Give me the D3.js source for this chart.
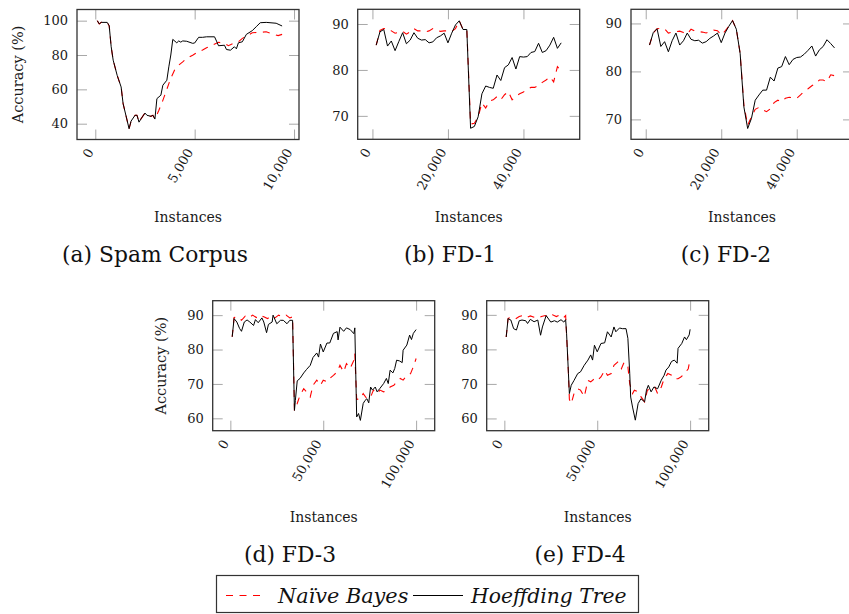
<!DOCTYPE html>
<html><head><meta charset="utf-8">
<script src="https://cdn.jsdelivr.net/npm/d3@7"></script>
<style>
body{margin:0;background:#fff}
svg{display:block}
</style>
</head><body>
<svg id="chart" width="849" height="614"></svg>
<script>
// ---------- data (instances, accuracy %) ----------
// (a) Spam Corpus
const aHtX = [100,200,300,600,700,800,900,1100,1300,1400,1700,1800,2000,2100,2200,2300,2500,2600,2800,2900,3000,3100,3300,3400,3600,3700,3800,3900,4100,4200,4300,4400,4600,4900,5000,5200,5400,5600,6000,6100,6200,6500,6600,6800,7000,7100,7200,7400,7600,7900,8100,8300,8600,9100,9400];
const aHtY = [100,98.1,99,99,97,84.8,77,68.2,61.4,51.7,37.1,41.5,44.9,44.9,40.9,42.8,46.2,44.9,44.3,44.9,42.7,54.6,56.6,62.4,65.3,73.1,80,89.1,87.1,88.2,87.5,88.2,88,86.8,87,90.3,90.3,90.6,90.6,88.1,85.4,85.7,83.2,82.8,84.8,83.6,87.1,87.7,92,94.2,96.5,98.8,99,98.5,96.9];
const aNbX = [100,200,300,600,700,800,900,1100,1300,1400,1700,1800,2000,2100,2200,2300,2500,2600,2800,2900,3000,3200,3400,3600,3800,4000,4200,4400,4600,4900,5100,5400,5600,5900,6200,6500,6700,7000,7200,7400,7700,7900,8300,8600,9000,9200,9400];
const aNbY = [100,98.1,99,99,97,84.8,77,68.2,61.4,51.7,37.1,41.5,44.9,44.9,40.9,42.8,46.2,44.9,44.3,44.9,42.7,47.8,53.6,60,66.5,71.5,74.1,76,78,79.9,81.3,82.9,84.2,85.8,87.4,86.8,85.4,87.1,87.7,89.7,91.6,93,93.2,93.5,92,91.3,92];

// (b) FD-1 and (c) FD-2 : one value every 1,000 instances
const fdX = [1000,2000,3000,4000,5000,6000,7000,8000,9000,10000,11000,12000,13000,14000,15000,16000,17000,18000,19000,20000,21000,22000,23000,24000,25000,26000,27000,28000,29000,30000,31000,32000,33000,34000,35000,36000,37000,38000,39000,40000,41000,42000,43000,44000,45000,46000,47000,48000,49000,50000];
const bHtY = [85.4,88.3,88.8,85.2,86.3,84.2,86.2,88.1,85.7,86.5,88.1,86.9,86.5,86.6,85.9,86.1,87,87.4,88,85.9,88,89.8,90.7,88.8,88.8,67.3,67.7,69.8,74.8,76.5,76.2,76,78.9,77.7,80.5,81.1,82.7,80.2,82.9,82.8,82.9,83.8,84,85.8,83.8,84.2,85.4,87.1,84.7,85.9];
const bNbY = [85.4,88.6,89,89,88.5,88,88.2,88.4,87.8,88.3,89,88.5,88.5,88.3,88.5,89,88.6,88.4,88.5,88.5,88.4,89,90.7,88.8,88.8,68.2,68.4,69.8,72.8,71.7,73.2,73.5,74.2,73.5,74.6,75.3,73.5,74.3,74.8,75.2,75.8,76.2,76.2,76.6,77.3,77.8,78.5,77.4,80.7,79.8];
const cHtY = [85.5,88.1,88.9,85.2,86.2,84.1,86.4,88,85.5,86.4,88,86.7,86.4,86.5,85.9,86.2,86.9,87.4,88,86,88,89.4,90.6,88.8,83.8,72.6,68.1,70.2,74,75.1,76.1,76.1,78.8,78,80.7,81,83.1,81.4,82.5,82.9,83,83.6,84.4,85.3,83.2,84.5,85.2,86.6,85.8,84.9];
const cNbY = [85.5,88,88.9,89,88.9,88,88.2,88.3,88.4,88.1,87.8,88.8,88.4,88.3,88.2,88,88.3,88.6,88.5,87.6,88.4,89.4,90.6,88.8,83.8,73,68.8,70.5,72.1,72.5,72,71.6,72.2,73.5,74,73.7,74.4,74.6,74.5,74.4,75.1,75.9,76.4,77,77.5,78.2,78.2,77.9,79.3,79.1];

// (d) FD-3
const dHtX = [1000,2000,3500,5000,6000,7500,9000,10500,12500,13500,15000,17000,18000,19500,20500,22500,23000,25000,27000,28500,30500,32000,33500,34500,35000,36000,37500,39500,41000,43000,44500,46500,47500,48500,50000,52000,53500,55500,57500,58000,59000,61000,62500,64500,66500,67000,68000,69000,70000,71500,72500,73500,74500,75500,76500,78000,79000,80500,82500,84000,85000,86000,87500,88500,89500,91000,92500,93000,95000,96500,97500,98500,100000];
const dHtY = [83.7,89,88,86.1,85.3,88,88.6,88,87,88.7,87.8,89.2,88,84.9,87.3,88,90,87.5,88.5,88.5,87.5,88.5,88.5,62.3,65.2,70.9,71.6,73.2,74.2,75.4,77.7,79,77.8,81.6,79.3,81.9,81.9,84.7,85.2,82.8,86.5,85.3,86.3,85.8,84.6,86.3,60.4,61.4,59.4,64.3,65.2,65.7,64.5,69.1,68.2,69.1,67.7,68.7,70.1,71.6,70.1,74,73.2,74.5,76.9,76.7,76.2,79.8,81.3,84.2,82.9,84.7,85.8];
const dNbX = [1000,2000,4000,6000,8000,10000,12000,14000,16000,18000,20000,22000,24000,26000,28000,30000,32000,33500,34500,36000,37500,39500,41000,43000,44500,46500,48500,50000,52000,53500,55500,57500,59000,61000,62500,64500,66500,67000,68000,70000,71500,73500,75500,77000,79000,80500,82500,84500,86000,88000,89500,91500,93000,95000,97000,98500,100000];
const dNbY = [83.7,89.3,89.5,88.5,89.7,89.2,90,89.3,90,89.5,89,89.8,89.2,90,89.5,90,89.2,89.5,62.3,64.3,66.7,68.6,67.7,66.2,69.6,71.1,69.6,71.1,70.6,71.6,72.5,73.5,75.4,73.5,75.9,74.5,76.9,78.8,65.5,65.7,67.2,65.7,66.2,68.2,67.2,68.2,67.7,68.2,69.1,69.6,70.6,71.6,71.1,72.5,73,75,77.4];

// (e) FD-4
const eHtX = [1000,2000,3500,5000,6500,8000,9500,11500,12500,14000,16000,18000,19500,20500,22500,25000,27000,28500,30500,32000,33000,33500,34500,35000,36000,37500,39500,41000,43000,45000,46500,47500,48500,50000,52000,54000,55500,57500,59000,60000,62000,63500,65500,66500,67500,68000,69000,70500,72000,73500,75500,76500,77500,79000,80500,82500,84500,86000,87000,88500,90000,91500,93000,93500,95500,97000,98000,99500,100000];
const eHtY = [83.6,88.9,88.5,86,85.6,88.3,88.5,88.3,87.5,88.7,88,88.5,84.1,86.5,89.8,87.9,88.3,87.9,88.6,87.9,88.6,84.6,73,67.2,69.6,71,73,73.5,75.4,76.9,78.4,76.9,81.2,79.3,81.7,81.9,85.1,83.6,86.5,85.1,86.2,86,86,83.2,73,66.2,63.3,59.5,64.3,65.7,64.8,68.2,69.6,67.7,69.1,68.6,71.1,72.5,74,74.9,76.5,76.9,76,80.3,81.7,83.6,82.8,84.2,85.8];
const eNbX = [1000,2000,4000,6000,8000,10000,12000,14000,16000,18000,20000,22000,24000,26000,28000,30000,32000,33000,34500,35000,36000,37500,39500,41000,43000,45000,46500,48500,50000,52000,54000,55500,57500,59000,61000,63000,64500,66500,67500,69000,70000,72000,73500,75500,77000,81000,82500,84500,86000,88000,90000,91500,93500,95000,97000,99000,100000];
const eNbY = [83.6,89,89.3,88.8,89.5,89.8,89.2,89.7,89.3,89,89.5,89.8,89.2,90,89.5,90,89.2,89.8,73,65.5,64.3,67.2,68.6,68.2,66.3,71,70.6,71.5,71,72,73.9,72.5,73,75.4,76.3,74.4,76.3,75,70,67.2,68.2,67.7,66.3,64.8,68.2,69.1,67.2,69.1,71.5,73,72.5,71.5,71.5,72,73,74.4,77.3];

// tick values and labels
const ticksXa = [0,5000,10000];
const ticksXbc = [0,20000,40000];
const ticksXde = [0,50000,100000];
const ticksYa = [40,60,80,100];
const ticksYbc = [70,80,90];
const ticksYde = [60,70,80,90];
const captions = ["(a) Spam Corpus","(b) FD-1","(c) FD-2","(d) FD-3","(e) FD-4"];
const seriesNames = ["Naïve Bayes","Hoeffding Tree"];
const xTitle = "Instances";
const yTitle = "Accuracy (%)";

// ---------- layout ----------
const W = 222, H = 130;
const SERIF = "'DejaVu Serif', serif";
const panels = [
  {hx:aHtX, hy:aHtY, nx:aNbX, ny:aNbY, xDom:[-920,10250], yDom:[30.8,106.5], xt:ticksXa, yt:ticksYa, left:77, top:9.5, ylab:22.5, xlabY:222, capX:155, capY:262},
  {hx:fdX, hy:bHtY, nx:fdX, ny:bNbY, xDom:[-3900,54900], yDom:[64.9,93.2], xt:ticksXbc, yt:ticksYbc, left:357.7, top:9.3, ylab:null, xlabY:222, capX:450, capY:262},
  {hx:fdX, hy:cHtY, nx:fdX, ny:cNbY, xDom:[-3900,54900], yDom:[65.85,92.95], xt:ticksXbc, yt:ticksYbc, left:631, top:9.3, ylab:null, xlabY:222, capX:726, capY:262},
  {hx:dHtX, hy:dHtY, nx:dNbX, ny:dNbY, xDom:[-9500,110000], yDom:[56.4,94.2], xt:ticksXde, yt:ticksYde, left:212.7, top:300.7, ylab:165.5, xlabY:522, capX:290, capY:562},
  {hx:eHtX, hy:eHtY, nx:eNbX, ny:eNbY, xDom:[-9500,110000], yDom:[56.45,94.1], xt:ticksXde, yt:ticksYde, left:486.7, top:300.7, ylab:null, xlabY:522, capX:580, capY:562}
];

const svg = d3.select("#chart");
const RED = "#ff0000", DASH = "7,6.5";

function styleAxis(sel){
  sel.attr("font-family", SERIF).attr("font-size", 13);
  sel.select(".domain").remove();
  sel.selectAll(".tick line").attr("stroke", "#a8a8a8").attr("stroke-width", 1);
  sel.selectAll(".tick text").attr("fill", "#1a1a1a");
}

panels.forEach((p, i) => {
  const x = d3.scaleLinear().domain(p.xDom).range([p.left, p.left + W]);
  const y = d3.scaleLinear().domain(p.yDom).range([p.top + H, p.top]);
  const g = svg.append("g");

  // axes with inside, mirrored ticks
  const aL = g.append("g").attr("transform", `translate(${p.left},0)`)
    .call(d3.axisLeft(y).tickValues(p.yt).tickSizeInner(-10).tickSizeOuter(0).tickPadding(9));
  styleAxis(aL);
  const aR = g.append("g").attr("transform", `translate(${p.left + W},0)`)
    .call(d3.axisRight(y).tickValues(p.yt).tickSizeInner(-10).tickSizeOuter(0).tickFormat(""));
  styleAxis(aR);
  const aT = g.append("g").attr("transform", `translate(0,${p.top})`)
    .call(d3.axisTop(x).tickValues(p.xt).tickSizeInner(-10).tickSizeOuter(0).tickFormat(""));
  styleAxis(aT);
  const aB = g.append("g").attr("transform", `translate(0,${p.top + H})`)
    .call(d3.axisBottom(x).tickValues(p.xt).tickSizeInner(-10).tickSizeOuter(0).tickFormat(d3.format(",")));
  styleAxis(aB);
  aB.selectAll(".tick text")
    .attr("x", 0).attr("y", 0).attr("dy", "0.35em")
    .attr("text-anchor", "end")
    .attr("transform", "translate(-5.5,10) rotate(-60)");

  // series: Naive Bayes first (dashed red), Hoeffding Tree on top
  const line = (xs, ys) => d3.line().x((d, k) => x(xs[k])).y(d => y(d))(ys);
  g.append("path").attr("d", line(p.nx, p.ny))
    .attr("fill", "none").attr("stroke", RED).attr("stroke-width", 1.1)
    .attr("stroke-dasharray", DASH);
  g.append("path").attr("d", line(p.hx, p.hy))
    .attr("fill", "none").attr("stroke", "#000").attr("stroke-width", 1)
    .attr("stroke-linejoin", "round");

  // frame
  g.append("rect").attr("x", p.left).attr("y", p.top).attr("width", W).attr("height", H)
    .attr("fill", "none").attr("stroke", "#333").attr("stroke-width", 1.3);

  // axis titles
  g.append("text").attr("x", p.left + W / 2).attr("y", p.xlabY)
    .attr("text-anchor", "middle").attr("font-family", SERIF).attr("font-size", 14)
    .attr("fill", "#1a1a1a").text(xTitle);
  if (p.ylab !== null) {
    g.append("text").attr("transform", `translate(${p.ylab},${p.top + H / 2}) rotate(-90)`)
      .attr("text-anchor", "middle").attr("font-family", SERIF).attr("font-size", 14.5)
      .attr("fill", "#1a1a1a").text(yTitle);
  }
  // caption
  g.append("text").attr("x", p.capX).attr("y", p.capY)
    .attr("text-anchor", "middle").attr("font-family", SERIF).attr("font-size", 21.8)
    .attr("fill", "#111").text(captions[i]);
});

// legend
const lg = svg.append("g");
lg.append("rect").attr("x", 216.5).attr("y", 575.5).attr("width", 422).attr("height", 37)
  .attr("fill", "#fff").attr("stroke", "#333").attr("stroke-width", 1.2);
lg.append("line").attr("x1", 226).attr("x2", 264).attr("y1", 595.5).attr("y2", 595.5)
  .attr("stroke", RED).attr("stroke-width", 1.1).attr("stroke-dasharray", DASH);
lg.append("text").attr("x", 278).attr("y", 603).attr("font-family", SERIF).attr("font-style", "italic")
  .attr("font-size", 20.8).attr("fill", "#111").text(seriesNames[0]);
lg.append("line").attr("x1", 413).attr("x2", 463).attr("y1", 595.5).attr("y2", 595.5)
  .attr("stroke", "#000").attr("stroke-width", 1);
lg.append("text").attr("x", 471).attr("y", 603).attr("font-family", SERIF).attr("font-style", "italic")
  .attr("font-size", 20.3).attr("fill", "#111").text(seriesNames[1]);
</script>
</body></html>
